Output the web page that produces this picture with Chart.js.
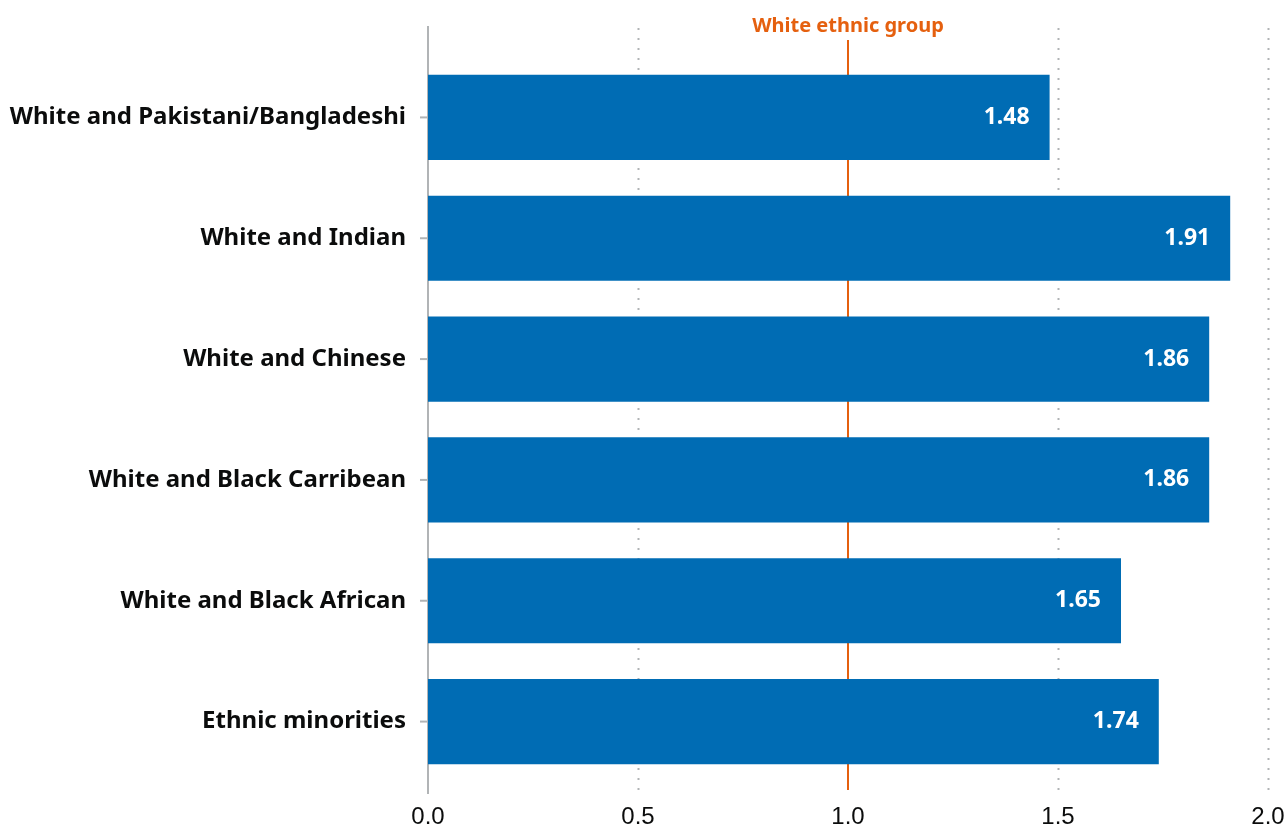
<!DOCTYPE html>
<html>
<head>
<meta charset="utf-8">
<script src="https://cdn.jsdelivr.net/npm/chart.js@4"></script>
<style>
  html, body { margin: 0; padding: 0; background: #fff; }
  #wrap { width: 1287px; height: 827px; }
</style>
</head>
<body>
<div id="wrap"><canvas id="myChart"></canvas></div>
<script>
// categories and values
var groups = ['White and Pakistani/Bangladeshi', 'White and Indian', 'White and Chinese',
  'White and Black Carribean', 'White and Black African', 'Ethnic minorities'];
var ratios = [1.48, 1.91, 1.86, 1.86, 1.65, 1.74];
var xTicks = [0, 0.5, 1.0, 1.5, 2.0];
var refValue = 1.0;
var refLabel = 'White ethnic group';

var barColor = '#006cb4';
var refColor = '#e5600f';

// gridlines, axis line, reference line and y tick marks
var backLines = {
  id: 'backLines',
  beforeDatasetsDraw: function(chart) {
    var ctx = chart.ctx, xs = chart.scales.x, ys = chart.scales.y;
    var top = 26, bottom = 794;
    ctx.save();
    xTicks.forEach(function(v) {
      var px = Math.round(xs.getPixelForValue(v)) + 0.5;
      if (v === 0 || v === refValue) return;
      ctx.strokeStyle = '#b1b4b6';
      ctx.lineWidth = 2;
      ctx.setLineDash([2, 8]);
      ctx.beginPath(); ctx.moveTo(px, top + 2); ctx.lineTo(px, bottom); ctx.stroke();
    });
    ctx.setLineDash([]);
    // reference line
    var rx = xs.getPixelForValue(refValue);
    ctx.strokeStyle = refColor;
    ctx.lineWidth = 2;
    ctx.beginPath(); ctx.moveTo(rx, 40); ctx.lineTo(rx, 790); ctx.stroke();
    ctx.fillStyle = refColor;
    ctx.font = 'bold 20px "Noto Sans"';
    ctx.textAlign = 'center';
    ctx.textBaseline = 'middle';
    ctx.fillText(refLabel, rx, 26);
    // y axis line
    var x0 = xs.getPixelForValue(0);
    ctx.strokeStyle = '#b1b4b6';
    ctx.lineWidth = 2;
    ctx.beginPath(); ctx.moveTo(x0, top); ctx.lineTo(x0, bottom); ctx.stroke();
    // y tick marks
    groups.forEach(function(g, i) {
      var py = ys.getPixelForTick(i);
      ctx.beginPath(); ctx.moveTo(x0 - 8, py); ctx.lineTo(x0, py); ctx.stroke();
    });
    ctx.restore();
  }
};

// value labels inside bars
var valueLabels = {
  id: 'valueLabels',
  afterDatasetsDraw: function(chart) {
    var ctx = chart.ctx;
    var meta = chart.getDatasetMeta(0);
    ctx.save();
    ctx.fillStyle = '#ffffff';
    ctx.font = 'bold 23px "Noto Sans"';
    ctx.textAlign = 'right';
    ctx.textBaseline = 'middle';
    meta.data.forEach(function(bar, i) {
      ctx.fillText(ratios[i].toFixed(2), bar.x - 20, bar.y);
    });
    ctx.restore();
  }
};

var ctx = document.getElementById('myChart').getContext('2d');
var chart = new Chart(ctx, {
  type: 'bar',
  data: {
    labels: groups,
    datasets: [{
      data: ratios,
      backgroundColor: barColor,
      borderWidth: 0,
      barPercentage: 0.705,
      categoryPercentage: 1.0
    }]
  },
  options: {
    indexAxis: 'y',
    responsive: true,
    maintainAspectRatio: false,
    animation: false,
    layout: { padding: { top: 57, right: 19, bottom: 0, left: 0 } },
    plugins: {
      legend: { display: false },
      tooltip: { enabled: false }
    },
    scales: {
      x: {
        min: 0,
        max: 2,
        afterBuildTicks: function(axis) {
          axis.ticks = xTicks.map(function(v) { return { value: v }; });
        },
        afterFit: function(axis) {
          axis.height = 45;
          axis.paddingRight = 0;
          axis.paddingLeft = 0;
        },
        grid: { display: false, drawTicks: false },
        border: { display: false },
        ticks: {
          padding: 21,
          color: '#0b0c0c',
          font: { family: '"Liberation Sans", Arial', size: 24 },
          callback: function(v) { return Number(v).toFixed(1); },
          maxRotation: 0
        }
      },
      y: {
        afterFit: function(axis) { axis.width = 428; },
        grid: { display: false, drawTicks: false },
        border: { display: false },
        ticks: {
          padding: 22,
          color: '#0b0c0c',
          font: { family: '"Noto Sans"', size: 24, weight: 'bold' }
        }
      }
    }
  },
  plugins: [backLines, valueLabels]
});
</script>
</body>
</html>
